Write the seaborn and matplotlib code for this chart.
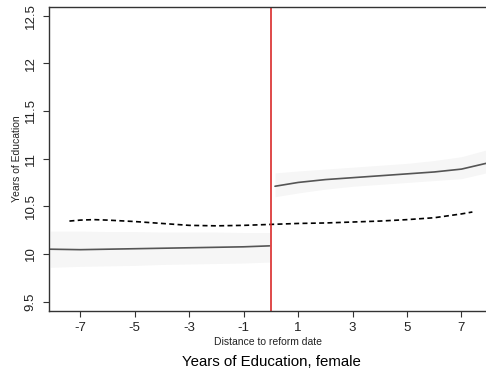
import numpy as np
import pandas as pd
import matplotlib
matplotlib.use("Agg")
import matplotlib.pyplot as plt
import seaborn as sns

# Left of the cutoff: fitted line with confidence band
x_left = [-8.1, -7, -6, -5, -4, -3, -2, -1, -0.05]
y_left = [10.05, 10.045, 10.05, 10.055, 10.06, 10.065, 10.07, 10.075, 10.085]
lo_left = [9.86, 9.87, 9.875, 9.88, 9.89, 9.895, 9.90, 9.905, 9.915]
hi_left = [10.24, 10.24, 10.235, 10.235, 10.23, 10.23, 10.23, 10.225, 10.225]

# Right of the cutoff
x_right = [0.15, 1, 2, 3, 4, 5, 6, 7, 7.9]
y_right = [10.71, 10.75, 10.78, 10.80, 10.82, 10.84, 10.86, 10.89, 10.95]
lo_right = [10.60, 10.64, 10.68, 10.71, 10.73, 10.75, 10.77, 10.79, 10.85]
hi_right = [10.85, 10.87, 10.89, 10.91, 10.93, 10.95, 10.98, 11.02, 11.09]

# Dashed comparison line
x_dash = [-7.4, -7, -6.5, -6, -5, -4, -3, -2, -1, 0, 1, 2, 3, 4, 5, 6, 7, 7.4]
y_dash = [10.345, 10.355, 10.36, 10.355, 10.34, 10.32, 10.30, 10.295, 10.30, 10.31,
          10.32, 10.325, 10.335, 10.345, 10.36, 10.38, 10.42, 10.44]

x_ticks = [-7, -5, -3, -1, 1, 3, 5, 7]
y_ticks = [9.5, 10, 10.5, 11, 11.5, 12, 12.5]
y_tick_labels = ["9.5", "10", "10.5", "11", "11.5", "12", "12.5"]

sns.set_style("white")
plt.rcParams["font.family"] = ["Liberation Sans", "DejaVu Sans"]
plt.rcParams["axes.unicode_minus"] = False

fig = plt.figure(figsize=(4.86, 3.76), dpi=100)
ax = fig.add_axes([49 / 486, 1 - 310.7 / 376, 1 - 49 / 486, (310.7 - 7) / 376])

band = "#f6f6f6"
ax.fill_between(x_left, lo_left, hi_left, color=band, lw=0)
ax.fill_between(x_right, lo_right, hi_right, color=band, lw=0)

left = pd.DataFrame({"x": x_left, "y": y_left})
right = pd.DataFrame({"x": x_right, "y": y_right})
dash = pd.DataFrame({"x": x_dash, "y": y_dash})
sns.lineplot(data=left, x="x", y="y", ax=ax, color="#555555", lw=1.2, estimator=None)
sns.lineplot(data=right, x="x", y="y", ax=ax, color="#555555", lw=1.2, estimator=None)
sns.lineplot(data=dash, x="x", y="y", ax=ax, color="black", lw=1.2, estimator=None,
             linestyle=(0, (3, 2)))

ax.axvline(0, color="#d92a2a", lw=1.2)

ax.set_xlim(-8.15, 7.9)
ax.set_ylim(9.405, 12.59)
ax.set_xticks(x_ticks)
ax.set_xticklabels([str(t) for t in x_ticks])
ax.set_yticks(y_ticks)
ax.set_yticklabels(y_tick_labels, rotation=90, va="center")
ax.tick_params(axis="both", direction="out", length=4, width=0.8, color="#333333",
               labelsize=9.5, labelcolor="#222222", left=True, bottom=True)
ax.tick_params(axis="x", pad=4)
ax.tick_params(axis="y", pad=5)

for s in ["left", "bottom", "top"]:
    ax.spines[s].set_color("#333333")
    ax.spines[s].set_linewidth(1.0)
ax.spines["right"].set_visible(False)

ax.set_xlabel("Distance to reform date", fontsize=7.5, color="#222222", labelpad=2)
ax.set_ylabel("Years of Education", fontsize=7.5, color="#222222", labelpad=2)
fig.text(271 / 486, 1 - 362 / 376, "Years of Education, female", fontsize=10.8,
         ha="center", va="center", color="black")

fig.savefig("out.png", dpi=100)
